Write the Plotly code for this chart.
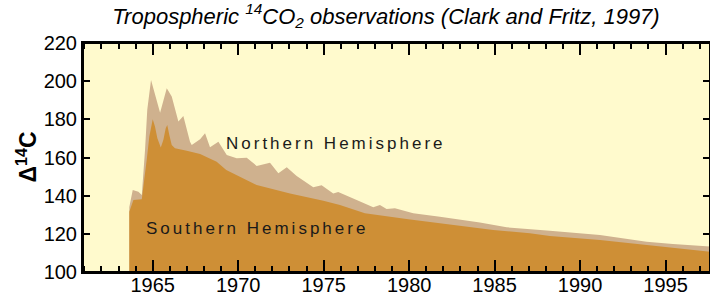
import plotly.graph_objects as go

# Northern Hemisphere tropospheric D14C (year, permil)
north_year = [1963.63, 1963.83, 1964.16, 1964.36, 1964.55, 1964.68, 1964.90, 1965.43,
              1965.82, 1966.11, 1966.50, 1966.79, 1967.18, 1967.28, 1967.77, 1968.06,
              1968.35, 1968.84, 1969.33, 1969.91, 1970.50, 1971.08, 1971.86, 1972.35,
              1972.84, 1973.42, 1974.39, 1974.88, 1975.56, 1975.85, 1976.93, 1977.90,
              1978.29, 1978.68, 1979.17, 1980.24, 1981.80, 1983.16, 1984.14, 1985.70,
              1987.06, 1988.23, 1991.16, 1993.89, 1995.43, 1997.60]
north_d14c = [134.0, 143.0, 142.0, 140.4, 164.0, 185.0, 200.6, 183.5,
              196.3, 191.9, 178.8, 181.8, 168.3, 166.6, 169.5, 172.7,
              165.4, 168.3, 161.3, 159.6, 159.9, 155.6, 157.3, 151.7,
              154.9, 150.3, 144.4, 145.4, 141.2, 141.9, 137.7, 133.9,
              135.1, 133.0, 133.4, 130.8, 129.0, 127.3, 126.0, 123.4,
              122.5, 121.6, 119.4, 115.9, 114.7, 113.3]

# Southern Hemisphere tropospheric D14C (year, permil)
south_year = [1963.63, 1963.87, 1964.36, 1964.50, 1964.65, 1964.80, 1964.94, 1965.00,
              1965.13, 1965.27, 1965.47, 1965.62, 1965.76, 1965.85, 1965.97, 1966.11,
              1966.30, 1966.99, 1967.77, 1968.74, 1969.30, 1971.08, 1973.03, 1974.98,
              1975.95, 1977.41, 1979.95, 1982.19, 1984.92, 1987.06, 1988.23, 1991.16,
              1993.89, 1995.43, 1997.60]
south_d14c = [131.6, 137.7, 138.1, 150.0, 159.0, 171.0, 178.8, 180.0,
              176.2, 170.1, 165.3, 169.2, 175.3, 177.0, 171.8, 166.6,
              164.8, 163.6, 161.8, 157.8, 153.5, 145.6, 141.2, 137.4,
              135.1, 130.8, 127.6, 125.2, 122.0, 120.3, 118.9, 116.8,
              114.2, 112.4, 110.6]

y_ticks = [100, 120, 140, 160, 180, 200, 220]
x_ticks = [1965, 1970, 1975, 1980, 1985, 1990, 1995]

FONT = "Liberation Sans, Arial, sans-serif"

fig = go.Figure()
fig.add_trace(go.Scatter(x=north_year, y=north_d14c, mode="lines", fill="tozeroy",
                         line=dict(width=0, color="#CFB18E"), fillcolor="#CFB18E",
                         name="Northern Hemisphere", hoverinfo="skip"))
fig.add_trace(go.Scatter(x=south_year, y=south_d14c, mode="lines", fill="tozeroy",
                         line=dict(width=0, color="#CE8F36"), fillcolor="#CE8F36",
                         name="Southern Hemisphere", hoverinfo="skip"))

fig.update_layout(
    width=710, height=295,
    margin=dict(l=83, r=0, t=43, b=23),
    paper_bgcolor="white", plot_bgcolor="#FFFACD",
    showlegend=False,
    font=dict(family=FONT, color="black"),
    title=dict(text="<i>Tropospheric <sup>14</sup>CO<sub>2</sub> observations (Clark and Fritz, 1997)</i>",
               x=386/710, xanchor="center", y=1-16/295, yanchor="middle",
               font=dict(size=22, family=FONT, color="black")),
    xaxis=dict(range=[1960.92, 1997.6], tickvals=x_ticks, ticks="inside", ticklen=12,
               tickwidth=1.5, tickcolor="black", showline=True, linecolor="black", linewidth=2,
               mirror="ticks", showgrid=False, zeroline=False, automargin=False,
               ticklabelstandoff=-6,
               tickfont=dict(size=20, family=FONT),
               minor=dict(dtick=1, ticks="inside", ticklen=6, tickwidth=1.5, tickcolor="black",
                          showgrid=False)),
    yaxis=dict(range=[100, 220], tickvals=y_ticks, ticks="inside", ticklen=7,
               tickwidth=1.5, tickcolor="black", showline=True, linecolor="black", linewidth=2,
               mirror="ticks", showgrid=False, zeroline=False, automargin=False,
               tickfont=dict(size=20, family=FONT)),
)

# plot frame (same as the mirrored axis lines)
fig.add_shape(type="rect", xref="paper", yref="paper", x0=0, x1=1, y0=0, y1=1,
              line=dict(color="black", width=2), layer="above")

fig.add_annotation(text="<b>Δ<sup>14</sup>C</b>", xref="paper", yref="paper",
                   x=(26-83)/627, y=0.5, xanchor="center", yanchor="middle",
                   textangle=-90, showarrow=False, font=dict(size=23, family=FONT, color="black"))
fig.add_annotation(text='<span style="letter-spacing:3px">Northern Hemisphere</span>',
                   x=1975.70, y=167.1, xref="x", yref="y", showarrow=False,
                   xanchor="center", yanchor="middle",
                   font=dict(size=17, family=FONT, color="#1a1a1a"))
fig.add_annotation(text='<span style="letter-spacing:3px">Southern Hemisphere</span>',
                   x=1971.07, y=122.7, xref="x", yref="y", showarrow=False,
                   xanchor="center", yanchor="middle",
                   font=dict(size=17, family=FONT, color="#1a1a1a"))

fig.write_html("out.html", config={"displayModeBar": False},
               post_script="document.body.style.margin='0';document.body.style.overflow='hidden';")
